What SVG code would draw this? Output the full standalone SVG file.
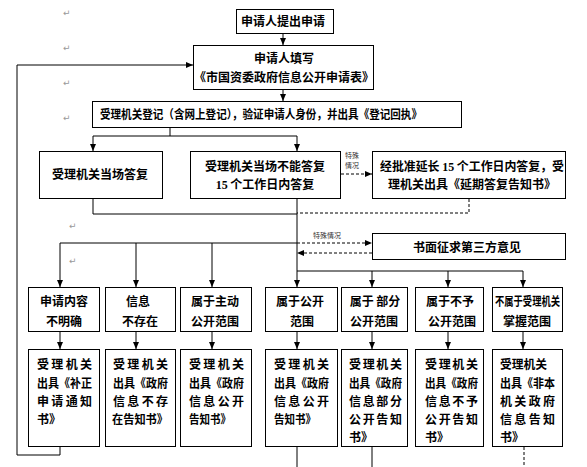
<svg xmlns="http://www.w3.org/2000/svg" width="587" height="467" viewBox="0 0 587 467">
<style>
.box{fill:#fff;stroke:#000;stroke-width:1}
.t{font-family:"Noto Sans CJK SC","Liberation Sans",sans-serif;font-weight:700;fill:#000;font-size:12px}
.c{text-anchor:middle}
.n{font-family:"Liberation Serif",serif;font-weight:700}
.ln{fill:none;stroke:#000;stroke-width:1}
.ds{fill:none;stroke:#000;stroke-width:1;stroke-dasharray:3,2}
.sm{font-family:"Noto Sans CJK SC",sans-serif;font-size:7px;fill:#333}
.pm{font-family:"DejaVu Sans",sans-serif;font-size:9px;fill:#999}
</style>
<defs>
<marker id="ar" markerUnits="userSpaceOnUse" markerWidth="7" markerHeight="6" refX="7" refY="3" orient="auto">
<path d="M0,0 L7,3 L0,6 z" fill="#000"/>
</marker>
</defs>
<rect width="587" height="467" fill="#fff"/>
<g id="marks">
<text class="pm" x="63" y="16">↵</text>
<text class="pm" x="63" y="51">↵</text>
<text class="pm" x="63" y="86">↵</text>
<text class="pm" x="63" y="121">↵</text>
<text class="pm" x="69" y="229">↵</text>
<text class="pm" x="69" y="264">↵</text>
</g>
<g id="connectors">
<path class="ln" d="M283,33 V45" marker-end="url(#ar)"/>
<path class="ln" d="M283,89 V101" marker-end="url(#ar)"/>
<path class="ln" d="M170,127 V136 M93,136 H297"/>
<path class="ln" d="M93,136 V151" marker-end="url(#ar)"/>
<path class="ln" d="M297,136 V151" marker-end="url(#ar)"/>
<path class="ln" d="M93,199 V214 H297"/>
<path class="ln" d="M297,199 V287" marker-end="url(#ar)"/>
<path class="ds" d="M341,174 H372" marker-end="url(#ar)"/>
<path class="ds" d="M469,199 V213 H297"/>
<path class="ds" d="M297,243 H372" marker-end="url(#ar)"/>
<path class="ds" d="M372,253 H297" marker-end="url(#ar)"/>
<path class="ln" d="M297,243 H60 V287" marker-end="url(#ar)"/>
<path class="ln" d="M136,243 V287" marker-end="url(#ar)"/>
<path class="ln" d="M212,243 V287" marker-end="url(#ar)"/>
<path class="ln" d="M297,271 H523 V287" marker-end="url(#ar)"/>
<path class="ln" d="M372,271 V287" marker-end="url(#ar)"/>
<path class="ln" d="M448,271 V287" marker-end="url(#ar)"/>
<path class="ln" d="M60,332 V349" marker-end="url(#ar)"/>
<path class="ln" d="M136,332 V349" marker-end="url(#ar)"/>
<path class="ln" d="M212,332 V349" marker-end="url(#ar)"/>
<path class="ln" d="M297,332 V349" marker-end="url(#ar)"/>
<path class="ln" d="M372,332 V349" marker-end="url(#ar)"/>
<path class="ln" d="M448,332 V349" marker-end="url(#ar)"/>
<path class="ln" d="M523,332 V349" marker-end="url(#ar)"/>
<path class="ln" d="M60,447 V455 H17 V65 H193" marker-end="url(#ar)"/>
<path class="ln" d="M297,447 V467 M372,447 V467"/>
<path class="ds" d="M524,447 V467"/>
<text class="sm" x="345" y="158">特殊</text>
<text class="sm" x="345" y="168">情况</text>
<text class="sm" x="313" y="238">特殊情况</text>
</g>
<g id="n1"><rect class="box" x="236.5" y="9.5" width="97" height="24"/>
<text class="t c" x="283" y="26" font-size="11.5">申请人提出申请</text></g>
<g id="n2"><rect class="box" x="193.5" y="45.5" width="180" height="44"/>
<text class="t c" x="284" y="63" font-size="11.5">申请人填写</text>
<text class="t c" x="284" y="82" font-size="11.5">《市国资委政府信息公开申请表》</text></g>
<g id="n3"><rect class="box" x="92.5" y="101.5" width="369" height="26"/>
<text class="t" x="100" y="119" font-size="11" textLength="322" lengthAdjust="spacingAndGlyphs">受理机关登记（含网上登记），验证申请人身份，并出具《登记回执》</text></g>
<g id="n4"><rect class="box" x="39.5" y="151.5" width="123" height="47"/>
<text class="t c" x="100" y="179">受理机关当场答复</text></g>
<g id="n5"><rect class="box" x="190.5" y="151.5" width="150" height="47"/>
<text class="t c" x="265" y="171">受理机关当场不能答复</text>
<text class="t c" x="265" y="189"><tspan class="n">15</tspan> 个工作日内答复</text></g>
<g id="n6"><rect class="box" x="372.5" y="151.5" width="193" height="47"/>
<text class="t" x="380" y="171" font-size="11.5" textLength="184" lengthAdjust="spacingAndGlyphs">经批准延长 <tspan class="n">15</tspan> 个工作日内答复，受</text>
<text class="t" x="388" y="189" font-size="11.5">理机关出具《延期答复告知书》</text></g>
<g id="n7"><rect class="box" x="372.5" y="233.5" width="193" height="26"/>
<text class="t c" x="467" y="252">书面征求第三方意见</text></g>
<g id="r1a"><rect class="box" x="28.5" y="287.5" width="71" height="44"/>
<text class="t c" x="64" y="306" font-size="12.5">申请内容</text>
<text class="t c" x="64" y="326" font-size="12.5">不明确</text></g>
<g id="r1b"><rect class="box" x="105.5" y="287.5" width="70" height="44"/>
<text class="t c" x="138" y="306" font-size="12.5">信息</text>
<text class="t c" x="140" y="326" font-size="12.5">不存在</text></g>
<g id="r1c"><rect class="box" x="180.5" y="287.5" width="71" height="44"/>
<text class="t c" x="215" y="306" font-size="12.5">属于主动</text>
<text class="t c" x="215" y="326" font-size="12.5">公开范围</text></g>
<g id="r1d"><rect class="box" x="265.5" y="287.5" width="72" height="44"/>
<text class="t c" x="300" y="306" font-size="12.5">属于公开</text>
<text class="t c" x="302" y="326" font-size="12.5">范围</text></g>
<g id="r1e"><rect class="box" x="341.5" y="287.5" width="66" height="44"/>
<text class="t c" x="375" y="306" font-size="12.5">属于 部分</text>
<text class="t c" x="374" y="326" font-size="12.5">公开范围</text></g>
<g id="r1f"><rect class="box" x="415.5" y="287.5" width="68" height="44"/>
<text class="t c" x="450" y="306" font-size="12.5">属于不予</text>
<text class="t c" x="452" y="326" font-size="12.5">公开范围</text></g>
<g id="r1g"><rect class="box" x="492.5" y="287.5" width="70" height="44"/>
<text class="t" x="495" y="306" font-size="12" textLength="65" lengthAdjust="spacingAndGlyphs">不属于受理机关</text>
<text class="t c" x="527" y="326" font-size="12">掌握范围</text></g>
<g id="r2a"><rect class="box" x="28.5" y="349.5" width="71" height="97"/>
<text class="t" x="37" y="369" font-size="13" textLength="55">受理机关</text>
<text class="t" x="37" y="388" font-size="13" textLength="55" lengthAdjust="spacingAndGlyphs">出具《补正</text>
<text class="t" x="37" y="406" font-size="13" textLength="55">申请通知</text>
<text class="t" x="37" y="424" font-size="13">书》</text></g>
<g id="r2b"><rect class="box" x="105.5" y="349.5" width="70" height="97"/>
<text class="t" x="113" y="369" font-size="13" textLength="55">受理机关</text>
<text class="t" x="113" y="388" font-size="13" textLength="55" lengthAdjust="spacingAndGlyphs">出具《政府</text>
<text class="t" x="113" y="406" font-size="13" textLength="55">信息不存</text>
<text class="t" x="112" y="424" font-size="13" textLength="56" lengthAdjust="spacingAndGlyphs">在告知书》</text></g>
<g id="r2c"><rect class="box" x="180.5" y="349.5" width="71" height="97"/>
<text class="t" x="189" y="369" font-size="13" textLength="55">受理机关</text>
<text class="t" x="189" y="388" font-size="13" textLength="55" lengthAdjust="spacingAndGlyphs">出具《政府</text>
<text class="t" x="189" y="406" font-size="13" textLength="55">信息公开</text>
<text class="t" x="189" y="424" font-size="13" textLength="42" lengthAdjust="spacingAndGlyphs">告知书》</text></g>
<g id="r2d"><rect class="box" x="265.5" y="349.5" width="72" height="97"/>
<text class="t" x="274" y="369" font-size="13" textLength="55">受理机关</text>
<text class="t" x="274" y="388" font-size="13" textLength="55" lengthAdjust="spacingAndGlyphs">出具《政府</text>
<text class="t" x="274" y="406" font-size="13" textLength="55">信息公开</text>
<text class="t" x="274" y="424" font-size="13" textLength="42" lengthAdjust="spacingAndGlyphs">告知书》</text></g>
<g id="r2e"><rect class="box" x="341.5" y="349.5" width="66" height="97"/>
<text class="t" x="349" y="369" font-size="13" textLength="53">受理机关</text>
<text class="t" x="349" y="388" font-size="13" textLength="53" lengthAdjust="spacingAndGlyphs">出具《政府</text>
<text class="t" x="349" y="406" font-size="13" textLength="53">信息部分</text>
<text class="t" x="349" y="424" font-size="13" textLength="53">公开告知</text>
<text class="t" x="349" y="442" font-size="13">书》</text></g>
<g id="r2f"><rect class="box" x="415.5" y="349.5" width="68" height="97"/>
<text class="t" x="425" y="369" font-size="13" textLength="53">受理机关</text>
<text class="t" x="425" y="388" font-size="13" textLength="53" lengthAdjust="spacingAndGlyphs">出具《政府</text>
<text class="t" x="425" y="406" font-size="13" textLength="53">信息不予</text>
<text class="t" x="425" y="424" font-size="13" textLength="53">公开告知</text>
<text class="t" x="425" y="442" font-size="13">书》</text></g>
<g id="r2g"><rect class="box" x="492.5" y="349.5" width="70" height="97"/>
<text class="t" x="500" y="369" font-size="13" textLength="47" lengthAdjust="spacingAndGlyphs">受理机关</text>
<text class="t" x="500" y="388" font-size="13" textLength="55" lengthAdjust="spacingAndGlyphs">出具《非本</text>
<text class="t" x="500" y="406" font-size="13" textLength="55">机关政府</text>
<text class="t" x="500" y="424" font-size="13" textLength="55">信息告知</text>
<text class="t" x="500" y="442" font-size="13">书》</text></g>
</svg>
